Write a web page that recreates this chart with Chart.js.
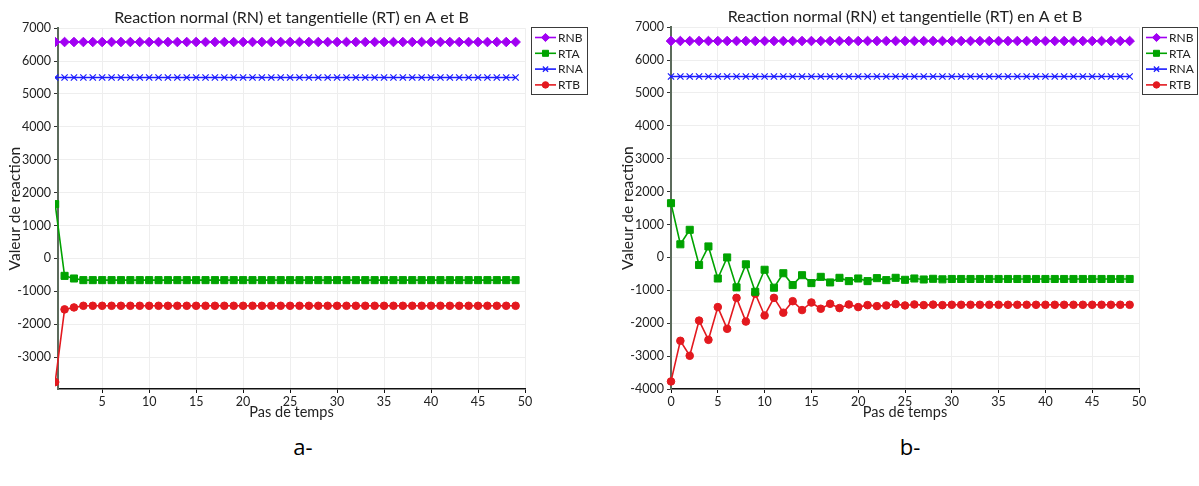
<!DOCTYPE html>
<html>
<head>
<meta charset="utf-8">
<script src="https://cdn.jsdelivr.net/npm/chart.js@4.4.0/dist/chart.umd.min.js"></script>
<style>
  html, body { margin: 0; padding: 0; background: #ffffff; }
  body { width: 1199px; height: 486px; position: relative; overflow: hidden; }
  canvas { position: absolute; top: 0; }
  #ca { left: 0; }
  #cb { left: 600px; }
  .cap { position: absolute; top: 431px; font-family: "Open Sans", sans-serif; font-size: 22px; color: #000; transform: translateX(-50%); }
</style>
</head>
<body>
<canvas id="ca" width="600" height="430"></canvas>
<canvas id="cb" width="599" height="430"></canvas>
<div class="cap" style="left:303px">a-</div>
<div class="cap" style="left:910px">b-</div>
<script>
// ---------- DATA ----------
const steps = [0,1,2,3,4,5,6,7,8,9,10,11,12,13,14,15,16,17,18,19,20,21,22,23,24,25,26,27,28,29,30,31,32,33,34,35,36,37,38,39,40,41,42,43,44,45,46,47,48,49];
const seriesNames = ["RNB", "RTA", "RNA", "RTB"];

const RNB = [6580,6580,6580,6580,6580,6580,6580,6580,6580,6580,6580,6580,6580,6580,6580,6580,6580,6580,6580,6580,6580,6580,6580,6580,6580,6580,6580,6580,6580,6580,6580,6580,6580,6580,6580,6580,6580,6580,6580,6580,6580,6580,6580,6580,6580,6580,6580,6580,6580,6580];
const RNA = [5500,5500,5500,5500,5500,5500,5500,5500,5500,5500,5500,5500,5500,5500,5500,5500,5500,5500,5500,5500,5500,5500,5500,5500,5500,5500,5500,5500,5500,5500,5500,5500,5500,5500,5500,5500,5500,5500,5500,5500,5500,5500,5500,5500,5500,5500,5500,5500,5500,5500];

// chart a-
const RTA_a = [1650,-530,-610,-660,-660,-660,-660,-660,-660,-660,-660,-660,-660,-660,-660,-660,-660,-660,-660,-660,-660,-660,-660,-660,-660,-660,-660,-660,-660,-660,-660,-660,-660,-660,-660,-660,-660,-660,-660,-660,-660,-660,-660,-660,-660,-660,-660,-660,-660,-660];
const RTB_a = [-3760,-1550,-1490,-1440,-1440,-1440,-1440,-1440,-1440,-1440,-1440,-1440,-1440,-1440,-1440,-1440,-1440,-1440,-1440,-1440,-1440,-1440,-1440,-1440,-1440,-1440,-1440,-1440,-1440,-1440,-1440,-1440,-1440,-1440,-1440,-1440,-1440,-1440,-1440,-1440,-1440,-1440,-1440,-1440,-1440,-1440,-1440,-1440,-1440,-1440];

// chart b-
const RTA_b = [1650,400,840,-230,335,-640,0,-910,-210,-1045,-375,-920,-480,-840,-540,-780,-590,-760,-620,-720,-640,-720,-630,-690,-620,-680,-640,-670,-650,-665,-655,-655,-655,-655,-655,-655,-655,-655,-655,-655,-655,-655,-655,-655,-655,-655,-655,-655,-655,-655];
const RTB_b = [-3770,-2535,-2990,-1920,-2505,-1510,-2170,-1230,-1950,-1105,-1765,-1230,-1680,-1330,-1600,-1370,-1560,-1410,-1540,-1430,-1510,-1450,-1480,-1460,-1420,-1460,-1430,-1450,-1435,-1450,-1440,-1440,-1440,-1440,-1440,-1440,-1440,-1440,-1440,-1440,-1440,-1440,-1440,-1440,-1440,-1440,-1440,-1440,-1440,-1440];

// tick labels
const xTicksA = [5,10,15,20,25,30,35,40,45,50];
const xTicksB = [0,5,10,15,20,25,30,35,40,45,50];
const yTicksA = [-3000,-2000,-1000,0,1000,2000,3000,4000,5000,6000,7000];
const yTicksB = [-4000,-3000,-2000,-1000,0,1000,2000,3000,4000,5000,6000,7000];

const titleText = "Reaction normal (RN) et tangentielle (RT) en A et B";
const xTitle = "Pas de temps";
const yTitle = "Valeur de reaction";

// ---------- STYLES ----------
const FONT = "Lato, 'Open Sans', sans-serif";
const styles = {
  RNB: { color: "#a100f2", pointStyle: "rectRot", pointRadius: 4.8 },
  RTA: { color: "#00a300", pointStyle: "rect", pointRadius: 5 },
  RNA: { color: "#1a1aff", pointStyle: "crossRot", pointRadius: 4.4 },
  RTB: { color: "#e3191f", pointStyle: "circle", pointRadius: 3.8 }
};

function pts(arr) { return steps.map((s, i) => ({ x: s, y: arr[i] })); }

function makeDatasets(values, clipLeft) {
  return seriesNames.map((name, k) => {
    const st = styles[name];
    return {
      label: name,
      data: pts(values[k]),
      borderColor: st.color,
      backgroundColor: st.color,
      borderWidth: 1.6,
      pointStyle: st.pointStyle,
      pointRadius: st.pointRadius,
      pointBorderWidth: st.pointStyle === "crossRot" ? 1.2 : 1,
      pointBackgroundColor: st.color,
      pointBorderColor: st.color,
      tension: 0,
      clip: { left: clipLeft, top: 6, right: 6, bottom: 6 }
    };
  });
}

const legendBoxPlugin = {
  id: "legendBox",
  afterDraw(chart, args, opts) {
    const ctx = chart.ctx;
    const L = opts.left, T = opts.top, W = opts.width, H = opts.height;
    ctx.save();
    ctx.fillStyle = "#ffffff";
    ctx.fillRect(L, T, W, H);
    ctx.strokeStyle = "#3a3a3a";
    ctx.lineWidth = 1;
    ctx.strokeRect(L + 0.5, T + 0.5, W, H);
    chart.data.datasets.forEach((ds, i) => {
      const y = T + 10.5 + i * 15.8;
      ctx.strokeStyle = ds.borderColor;
      ctx.lineWidth = 1.6;
      ctx.beginPath();
      ctx.moveTo(L + 4, y);
      ctx.lineTo(L + 25, y);
      ctx.stroke();
      ctx.fillStyle = ds.pointBackgroundColor;
      ctx.strokeStyle = ds.pointBorderColor;
      ctx.lineWidth = ds.pointBorderWidth;
      Chart.helpers.drawPoint(ctx, { pointStyle: ds.pointStyle, radius: ds.pointRadius * 0.85, borderWidth: ds.pointBorderWidth, rotation: 0 }, L + 14.5, y);
      ctx.fillStyle = "#222";
      ctx.font = "12px " + FONT;
      ctx.textBaseline = "middle";
      ctx.textAlign = "left";
      ctx.fillText(ds.label, L + 27, y + 0.5);
    });
    ctx.restore();
  }
};

function makeChart(id, values, xMin, yMin, xTicks, yTicks, cfg) {
  return new Chart(document.getElementById(id), {
    type: "line",
    data: { datasets: makeDatasets(values, cfg.clipLeft) },
    plugins: [legendBoxPlugin],
    options: {
      responsive: false,
      animation: false,
      devicePixelRatio: 1,
      layout: { padding: { left: 0, right: cfg.padRight, top: 0, bottom: 0 } },
      plugins: {
        legend: { display: false },
        tooltip: { enabled: false },
        title: {
          display: true, text: titleText, fullSize: false,
          color: "#222", font: { family: FONT, size: 16, weight: "normal" },
          padding: { top: cfg.titleTop, bottom: 1 }
        },
        legendBox: cfg.legend
      },
      scales: {
        x: {
          type: "linear", min: xMin, max: 50,
          afterBuildTicks: s => { s.ticks = xTicks.map(v => ({ value: v })); },
          afterFit: s => { s.height = 41; },
          ticks: { color: "#222", font: { family: FONT, size: 12.5 }, padding: 1, maxRotation: 0, autoSkip: false, callback: v => String(v) },
          grid: { color: "#eeeeee", lineWidth: 1, tickColor: "#111", tickLength: 4 },
          border: { color: "#111", width: 1.5 },
          title: { display: true, text: xTitle, color: "#222", font: { family: FONT, size: 14.5 }, padding: { top: 0, bottom: 9 } }
        },
        y: {
          type: "linear", min: yMin, max: 7000,
          afterBuildTicks: s => { s.ticks = yTicks.map(v => ({ value: v })); },
          afterFit: s => { s.width = cfg.yWidth; },
          ticks: { color: "#222", font: { family: FONT, size: 12.5 }, padding: 3, autoSkip: false, callback: v => String(v) },
          grid: { color: "#eeeeee", lineWidth: 1, tickColor: "#333", tickLength: 4 },
          border: { color: "#5c6b5c", width: 2 },
          title: { display: true, text: yTitle, color: "#222", font: { family: FONT, size: 15.5 }, padding: { top: cfg.yTitleTop, bottom: 0 } }
        }
      }
    }
  });
}

makeChart("ca", [RNB, RTA_a, RNA, RTB_a], 0.3, -3970, xTicksA, yTicksA,
  { padRight: 75, titleTop: 8, yWidth: 58, yTitleTop: 6, clipLeft: 3, legend: { left: 531, top: 27, width: 56, height: 67 } });
makeChart("cb", [RNB, RTA_b, RNA, RTB_b], 0, -4000, xTicksB, yTicksB,
  { padRight: 60, titleTop: 7, yWidth: 71, yTitleTop: 19, clipLeft: 6, legend: { left: 542, top: 27, width: 55, height: 67 } });
</script>
</body>
</html>
